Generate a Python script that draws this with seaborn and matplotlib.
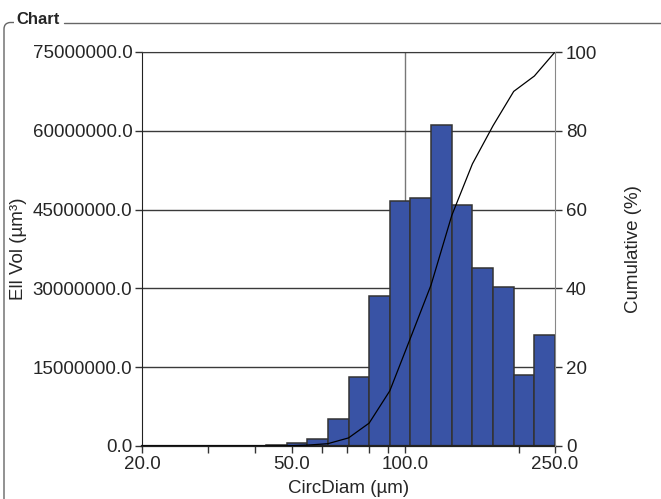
import matplotlib.pyplot as plt
import numpy as np
import seaborn as sns
from matplotlib.path import Path as MplPath
from matplotlib.patches import PathPatch
from matplotlib.ticker import FixedLocator, FuncFormatter, NullFormatter

# histogram: 20 log-spaced bins from 20 to 250 um
BIN_LO, BIN_HI, N_BINS = 20.0, 250.0, 20
ell_vol = [0, 0, 0, 0, 0, 0, 0.15e6, 0.6e6, 1.3e6, 5.1e6,
           13.1e6, 28.6e6, 46.6e6, 47.2e6, 61.1e6, 45.9e6, 33.8e6, 30.3e6, 13.6e6, 21.1e6]
# cumulative % at each bin edge (21 values)
cumulative = [0, 0, 0, 0, 0, 0, 0, 0.04, 0.22, 0.59, 2.05, 5.81, 14.0, 27.4,
              40.9, 58.5, 71.6, 81.3, 90.0, 93.9, 100.0]

x_major = [20, 50, 100, 250]
x_minor = [30, 40, 60, 70, 80, 90, 200]
y_left_ticks = [0, 15e6, 30e6, 45e6, 60e6, 75e6]
y_right_ticks = [0, 20, 40, 60, 80, 100]
x_grid = [100]

BAR = "#3953a5"
EDGE = "#333333"
GRID = "#3a3a3a"
FS = 13.5

sns.set_style("white")
plt.rcParams["font.family"] = ["Liberation Sans", "DejaVu Sans"]
plt.rcParams["axes.unicode_minus"] = False

W, H = 661, 499
fig = plt.figure(figsize=(W / 100, H / 100), dpi=100)

# group-box frame around the chart
frame = fig.add_axes([0, 0, 1, 1])
frame.set_xlim(0, W)
frame.set_ylim(H, 0)
frame.axis("off")
verts = [(4, H), (4, 29), (4, 23), (10, 22.5), (14, 22.5)]
codes = [MplPath.MOVETO, MplPath.LINETO, MplPath.CURVE3, MplPath.CURVE3, MplPath.LINETO]
frame.add_patch(PathPatch(MplPath(verts, codes), fill=False, ec="#666666", lw=1))
frame.plot([64, W], [22.5, 22.5], color="#666666", lw=1)
frame.text(16, 24, "Chart", fontsize=12, fontweight="bold", va="baseline", ha="left")

L, R, T, B = 142, 555, 52, 446
ax = fig.add_axes([L / W, 1 - B / H, (R - L) / W, (B - T) / H])

edges = np.geomspace(BIN_LO, BIN_HI, N_BINS + 1)
centers = np.sqrt(edges[:-1] * edges[1:])
log_edges = list(np.log10(edges))  # seaborn bins in log units when log_scale=True

for v in x_grid:
    ax.axvline(v, color="#777777", lw=1, zorder=0)
ax.yaxis.grid(True, color=GRID, lw=1)
ax.set_axisbelow(True)

sns.histplot(x=centers, weights=ell_vol, bins=log_edges, log_scale=True,
             color=BAR, edgecolor=EDGE, linewidth=1.1, alpha=1, ax=ax)

ax.set_xlim(BIN_LO, BIN_HI)
ax.set_ylim(0, 75e6)
ax.xaxis.set_major_locator(FixedLocator(x_major))
ax.xaxis.set_minor_locator(FixedLocator(x_minor))
ax.xaxis.set_major_formatter(FuncFormatter(lambda v, p: f"{v:.1f}"))
ax.xaxis.set_minor_formatter(NullFormatter())
ax.set_yticks(y_left_ticks)
ax.yaxis.set_major_formatter(FuncFormatter(lambda v, p: f"{v:.1f}"))
ax.tick_params(axis="both", which="both", direction="out", length=5, width=1,
               color="#333333", labelsize=FS, pad=2, bottom=True, left=True)
ax.set_xlabel("CircDiam (µm)", fontsize=FS, labelpad=5)
ax.set_ylabel("Ell Vol (µm³)", fontsize=FS, labelpad=4)
for side in ["left", "bottom"]:
    ax.spines[side].set_color("#222222")
ax.spines["bottom"].set_linewidth(1.6)
ax.spines["top"].set_color(GRID)
ax.spines["right"].set_visible(False)

ax2 = ax.twinx()
sns.lineplot(x=edges, y=cumulative, ax=ax2, color="black", lw=0.9)
ax2.set_ylim(0, 100)
ax2.set_yticks(y_right_ticks)
ax2.tick_params(axis="y", direction="out", length=5, width=1, color="#333333",
                labelsize=FS, pad=3, right=True)
ax2.set_ylabel("Cumulative (%)", fontsize=FS, labelpad=20)
ax2.spines["right"].set_color("#888888")
for side in ["left", "top", "bottom"]:
    ax2.spines[side].set_visible(False)

fig.savefig("out.png", dpi=100)
